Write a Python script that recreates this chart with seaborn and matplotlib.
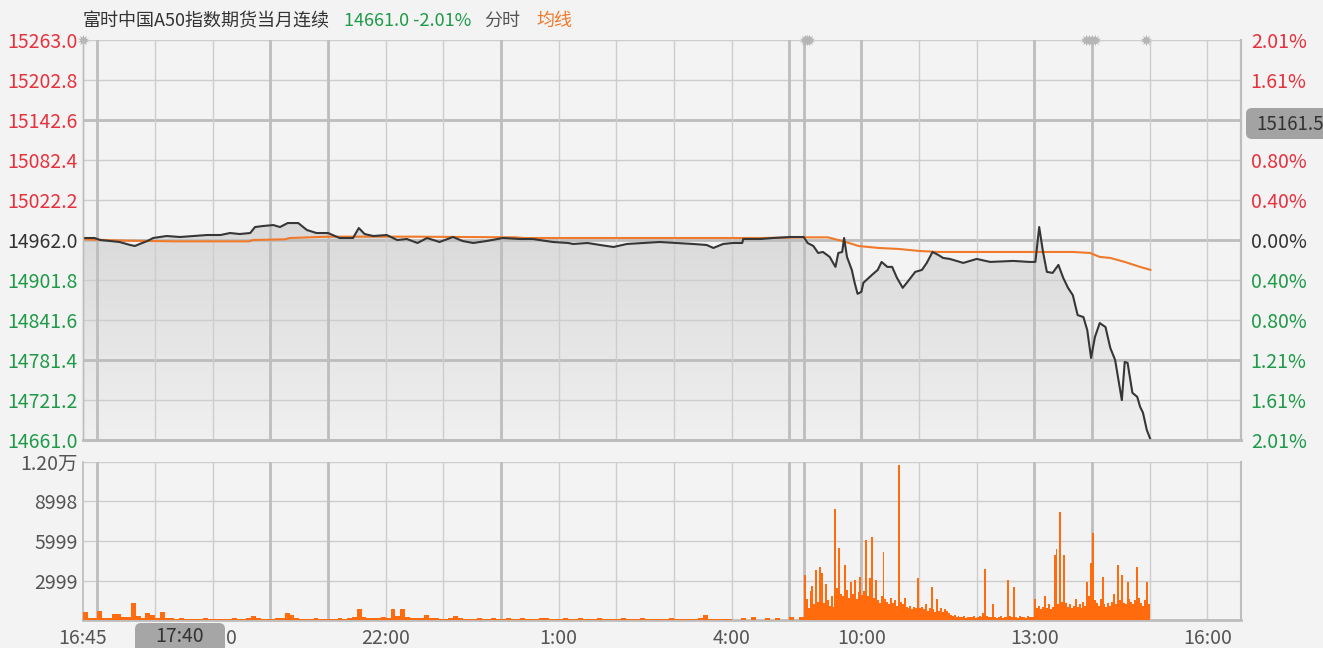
import numpy as np
import matplotlib
matplotlib.use("Agg")
import matplotlib.pyplot as plt
import seaborn as sns
from matplotlib.colors import LinearSegmentedColormap
from matplotlib.patches import FancyBboxPatch
from matplotlib.transforms import IdentityTransform

sns.set_theme(style="white")
plt.rcParams['font.family'] = ['Noto Sans CJK SC', 'DejaVu Sans']
plt.rcParams['axes.unicode_minus'] = False

# ---------------- data ----------------
title_name = "富时中国A50指数期货当月连续"
title_quote = "14661.0 -2.01%"
title_mode = "分时"
title_avg = "均线"
prev_close = 14962.0

price_times = ["16:45", "16:57", "17:03", "17:23", "17:34", "17:39", "17:44", "17:52", "17:58", "18:12",
               "18:26", "18:40", "18:54", "19:08", "19:18", "19:28", "19:39", "19:44", "19:52", "20:03",
               "20:10", "20:18", "20:29", "20:38", "20:48", "21:00", "21:12", "21:26", "21:32", "21:38",
               "21:47", "22:01", "22:12", "22:22", "22:33", "22:43", "22:56", "23:10", "23:20", "23:31",
               "23:45", "0:02", "0:20", "0:33", "0:54", "1:10", "1:15", "1:30", "1:43", "1:57",
               "2:11", "2:28", "2:45", "3:03", "3:20", "3:34", "3:41", "3:51", "4:01", "4:11",
               "4:12", "4:30", "4:43", "5:01", "5:13",
               "9:00", "9:04", "9:10", "9:15", "9:20", "9:27", "9:33", "9:36", "9:40", "9:42",
               "9:45", "9:50", "9:53", "9:56", "10:00", "10:02", "10:11", "10:17", "10:21", "10:27",
               "10:32", "10:37", "10:43", "10:48", "10:56", "11:03", "11:08", "11:14", "11:20", "11:25",
               "11:32", "11:46", "12:00", "12:14", "12:38", "12:55", "13:01", "13:05", "13:09", "13:13",
               "13:19", "13:25", "13:30", "13:35", "13:40", "13:45", "13:51", "13:55", "13:59", "14:03",
               "14:08", "14:14", "14:19", "14:24", "14:31", "14:34", "14:37", "14:42", "14:47", "14:50",
               "14:53", "14:57", "15:01"]
price_values = [14965, 14965, 14962, 14959, 14954.5, 14953, 14956, 14960.5, 14965, 14968,
                14966.5, 14968, 14969.5, 14969.5, 14972.5, 14971, 14972.5, 14981.5, 14983, 14984.5,
                14981.5, 14987.5, 14987.5, 14977, 14972.5, 14972.5, 14965, 14965, 14980, 14971,
                14968, 14969.5, 14962, 14963.5, 14957.5, 14965, 14959, 14966.5, 14960.5, 14957.5,
                14960.5, 14965, 14963.5, 14963.5, 14959, 14957.5, 14956, 14957.5, 14954.5, 14951.5,
                14956, 14957.5, 14959, 14957.5, 14956, 14954.5, 14950, 14956, 14957.5, 14957.5,
                14963.5, 14963.5, 14965, 14966.5, 14966.5,
                14966.5, 14957.5, 14953, 14942.5, 14944, 14936.5, 14921.5, 14942.5, 14944, 14965,
                14936.5, 14917, 14897.5, 14881, 14884, 14897.5, 14909.5, 14917, 14929, 14921.5,
                14921.5, 14905, 14890, 14899, 14914, 14917, 14927.5, 14944, 14939.5, 14935,
                14933.5, 14927.5, 14933.5, 14929, 14930.5, 14929, 14929, 14981.5, 14944, 14914,
                14912.5, 14924.5, 14905, 14890, 14879, 14849, 14846, 14826.5, 14784.5, 14816,
                14837, 14831, 14799.5, 14781.5, 14721, 14778.5, 14777, 14732, 14726, 14711,
                14702, 14676, 14661.0]

avg_times = ["16:45", "17:30", "18:20", "19:38", "19:42", "20:15", "20:20", "21:00", "22:30", "0:15",
             "0:25", "4:30", "5:15", "9:00", "9:25", "9:36", "9:47", "9:57", "10:18", "10:39",
             "11:00", "11:20", "13:40", "13:58", "14:08", "14:19", "14:34", "14:50", "15:01"]
avg_values = [14963, 14961, 14960, 14960, 14962, 14963, 14965, 14967, 14967, 14966,
              14965, 14965, 14966, 14966, 14966, 14962, 14957.5, 14953, 14950, 14948.5,
              14945.5, 14944, 14944, 14942.5, 14936.5, 14935, 14929, 14921.5, 14917]

# night session volume, 5-minute bins from 16:45
night_volume = [600, 150, 120, 700, 180, 150, 450, 480, 200, 250,
                1300, 300, 150, 500, 350, 150, 600, 180, 120, 100,
                120, 100, 90, 110, 100, 120, 90, 100, 110, 90,
                100, 120, 110, 90, 130, 300, 150, 110, 100, 90,
                120, 150, 500, 400, 130, 110, 100, 90, 120, 100,
                110, 90, 100, 120, 110, 150, 200, 800, 250, 150,
                140, 120, 200, 150, 800, 300, 800, 200, 150, 120,
                180, 350, 150, 120, 110, 100, 130, 300, 120, 100,
                110, 90, 120, 100, 110, 130, 100, 90, 120, 110,
                100, 120, 110, 90, 100, 130, 120, 100, 110, 90,
                120, 100, 110, 140, 100, 90, 110, 120, 100, 90,
                110, 100, 120, 90, 100, 110, 130, 100, 90, 110,
                100, 90, 120, 110, 100, 90, 110, 100, 120, 400,
                100, 90, 80, 60, 40, 30, 0, 150, 0, 200,
                0, 0, 180, 0, 150, 0, 0, 200, 0, 250]
# day session volume, 2-minute bins from 9:00
day_volume = [3400, 1600, 900, 2200, 2600, 1200, 3800, 1400, 4000, 3600,
              1300, 2700, 1500, 1100, 1800, 1000, 8400, 2400, 5500, 2000,
              1800, 4200, 2300, 1700, 2900, 2000, 3000, 1600, 2100, 3300,
              1900, 2200, 6100, 1800, 3200, 6300, 1700, 3000, 1500, 1300,
              1800, 5200, 1600, 1400, 1200, 1700, 1300, 1500, 1100, 11800,
              1400, 1200, 1700, 1000, 900, 1100, 800, 1000, 900, 3200,
              900, 1000, 800, 1200, 700, 900, 2500, 800, 600, 1600,
              700, 900, 600, 800, 700, 500, 400, 300, 350, 250,
              300, 200, 250, 300, 150, 200, 250, 200, 300, 150,
              200, 300, 250, 500, 3900, 300, 200, 250, 1200, 200,
              150, 200, 300, 150, 200, 250, 3000, 300, 200, 2500,
              200, 150, 300, 250, 200, 150, 300, 200, 250, 200,
              1600, 900, 1100, 800, 1000, 1800, 900, 1200, 800, 1000,
              4900, 5400, 1200, 8200, 1400, 4900, 1300, 1000, 1200, 900,
              1100, 1600, 1000, 1200, 900, 1400, 1100, 2900, 1800, 4300,
              6600, 1500, 1300, 1100, 1600, 3300, 1200, 1000, 1300, 1100,
              1400, 2000, 1200, 4200, 1500, 3400, 1300, 1200, 2900, 1600,
              1400, 1200, 1500, 4000, 1700, 1300, 1100, 1500, 2900, 1200]

price_ticks = [15263.0, 15202.8, 15142.6, 15082.4, 15022.2, 14962.0,
               14901.8, 14841.6, 14781.4, 14721.2, 14661.0]
volume_ticks = [2999, 5999, 8998, 11997]
volume_tick_labels = ["2999", "5999", "8998", "1.20万"]
xtick_times = ["16:45", "19:00", "22:00", "1:00", "4:00", "10:00", "13:00", "16:00"]
grid_hours = ["17:00", "18:00", "19:00", "20:00", "21:00", "22:00", "23:00", "0:00",
              "1:00", "2:00", "3:00", "4:00", "5:00", "9:00", "10:00", "11:00",
              "12:00", "13:00", "14:00", "15:00", "16:00"]
strong_hours = ["17:00", "20:00", "21:00", "0:00", "5:00", "9:00", "10:00", "13:00", "14:00"]
event_times = ["16:45", "9:01", "9:03", "9:05", "13:54", "13:57", "14:00", "14:03", "14:56"]
cursor_price_label = "15161.5"
cursor_price_level = 15142.6   # right-hand label hidden behind the cursor box
cursor_time_label = "17:40"


def to_min(t):
    h, m = map(int, t.split(":"))
    hm = h * 60 + m
    if hm >= 16 * 60 + 45 or hm < 6 * 60:
        return (hm - (16 * 60 + 45)) % 1440
    return 750 + hm - 9 * 60


# ---------------- colours ----------------
BG = "#f3f3f3"
RED = "#e5323e"
GREEN = "#1e9a48"
DARK = "#333333"
GRAY_TXT = "#555555"
GRID = "#cdcdcd"
GRID_STRONG = "#bdbdbd"
ORANGE_LINE = "#f07a2a"
ORANGE_BAR = "#ff6b0d"

W, H = 1323, 648
fig = plt.figure(figsize=(W / 100, H / 100), dpi=100, facecolor=BG)
ax = fig.add_axes([83 / W, 1 - 440 / H, 1158 / W, 400 / H], facecolor=BG)
axv = fig.add_axes([83 / W, 1 - 620 / H, 1158 / W, 158 / H], facecolor=BG)

XMAX = 1205
pm = [to_min(t) for t in price_times]
am = [to_min(t) for t in avg_times]
ymin, ymax = price_ticks[-1], price_ticks[0]

# gradient fill under price line
poly = ax.fill_between(pm, price_values, ymin, facecolor="none", edgecolor="none")
cmap = LinearSegmentedColormap.from_list("g", ["#f0f0f0", "#d9d9d9"])
grad = np.linspace(0, 1, 256).reshape(-1, 1)
im = ax.imshow(grad, extent=[0, pm[-1], ymin, max(price_values)], aspect="auto",
               cmap=cmap, origin="lower", zorder=1)
im.set_clip_path(poly.get_paths()[0], transform=ax.transData)

# grid lines (drawn over the fill)
for p in price_ticks:
    strong = p in (15142.6, 14962.0, 14781.4)
    ax.axhline(p, color=GRID_STRONG if strong else GRID, lw=2 if strong else 1, zorder=2)
for v in volume_ticks:
    axv.axhline(v, color=GRID, lw=1, zorder=0.5)
for t in grid_hours:
    strong = t in strong_hours
    ax.axvline(to_min(t), color=GRID_STRONG if strong else GRID, lw=2 if strong else 1, zorder=2)
    axv.axvline(to_min(t), color=GRID_STRONG if strong else GRID, lw=2 if strong else 1, zorder=0.5)

# lines
sns.lineplot(x=am, y=avg_values, ax=ax, color=ORANGE_LINE, linewidth=1.5, zorder=3)
sns.lineplot(x=pm, y=price_values, ax=ax, color="#363636", linewidth=1.5, zorder=4)

# event markers
ax.scatter([to_min(t) for t in event_times], [ymax] * len(event_times), marker=(10, 1, 0),
           s=70, color="#b5b5b5", zorder=6, clip_on=False, linewidths=0)

ax.set_xlim(0, XMAX)
ax.set_ylim(ymin, ymax)
ax.set_xticks([])
ax.set_yticks(price_ticks)
ax.set_yticklabels([f"{p:.1f}" for p in price_ticks])
for lbl, p in zip(ax.get_yticklabels(), price_ticks):
    lbl.set_color(RED if p > prev_close else (GREEN if p < prev_close else DARK))
ax.tick_params(axis="y", length=0, pad=4, labelsize=14)

ax2 = ax.twinx()
ax2.set_ylim(ymin, ymax)
ax2.set_yticks(price_ticks)
ax2.set_yticklabels(["" if p == cursor_price_level else f"{abs(p - prev_close) / prev_close * 100:.2f}%"
                     for p in price_ticks])
for lbl, p in zip(ax2.get_yticklabels(), price_ticks):
    lbl.set_color(RED if p > prev_close else (GREEN if p < prev_close else DARK))
ax2.tick_params(axis="y", length=0, pad=7, labelsize=14)

for a in (ax, ax2):
    a.spines["top"].set_visible(False)
    for s in ("left", "right", "bottom"):
        a.spines[s].set_color(GRID_STRONG)
    a.spines["bottom"].set_linewidth(2)
    a.spines["left"].set_linewidth(1)
    a.spines["right"].set_linewidth(1.5)

# volume bars
night_x = [5 * i + 2.5 for i in range(len(night_volume))]
day_x = [750 + 2 * j + 1 for j in range(len(day_volume))]
axv.bar(night_x, night_volume, width=5.0, color=ORANGE_BAR, linewidth=0, zorder=3)
axv.bar(day_x, day_volume, width=2.0, color=ORANGE_BAR, linewidth=0, zorder=3)
axv.set_xlim(0, XMAX)
axv.set_ylim(0, volume_ticks[-1])
axv.set_yticks(volume_ticks)
axv.set_yticklabels(volume_tick_labels)
axv.set_xticks([to_min(t) for t in xtick_times])
axv.set_xticklabels(xtick_times)
axv.tick_params(axis="y", length=0, pad=4, labelsize=14, colors=GRAY_TXT)
axv.tick_params(axis="x", length=0, pad=6, labelsize=14, colors=GRAY_TXT)
axv.spines["top"].set_visible(False)
for s in ("left", "right", "bottom"):
    axv.spines[s].set_color(GRID_STRONG)
axv.spines["bottom"].set_linewidth(2)
axv.spines["right"].set_linewidth(1.5)

# title pieces
renderer = fig.canvas.get_renderer()
x = 83
for s, c, gap in [(title_name, DARK, 14), (title_quote, GREEN, 13), (title_mode, GRAY_TXT, 16), (title_avg, ORANGE_LINE, 0)]:
    t = fig.text(x / W, 1 - 21 / H, s, color=c, fontsize=13, ha="left", va="center")
    bb = t.get_window_extent(renderer)
    x = bb.x1 + gap

# cursor tooltip boxes
box1 = FancyBboxPatch((1246, H - 139), 90, 31, boxstyle="round,pad=0,rounding_size=6",
                      transform=IdentityTransform(), fc="#a3a3a3", ec="none", zorder=5)
fig.patches.append(box1)
fig.text(1256 / W, 1 - 124 / H, cursor_price_label, color=DARK, fontsize=13.5,
         ha="left", va="center", zorder=6)
box2 = FancyBboxPatch((135, -15), 90, H - 623 + 15, boxstyle="round,pad=0,rounding_size=6",
                      transform=IdentityTransform(), fc="#a6a6a6", ec="none", zorder=5)
fig.patches.append(box2)
fig.text(180 / W, 1 - 637 / H, cursor_time_label, color=DARK, fontsize=14,
         ha="center", va="center", zorder=6)

fig.savefig("out.png", dpi=100, facecolor=BG)
